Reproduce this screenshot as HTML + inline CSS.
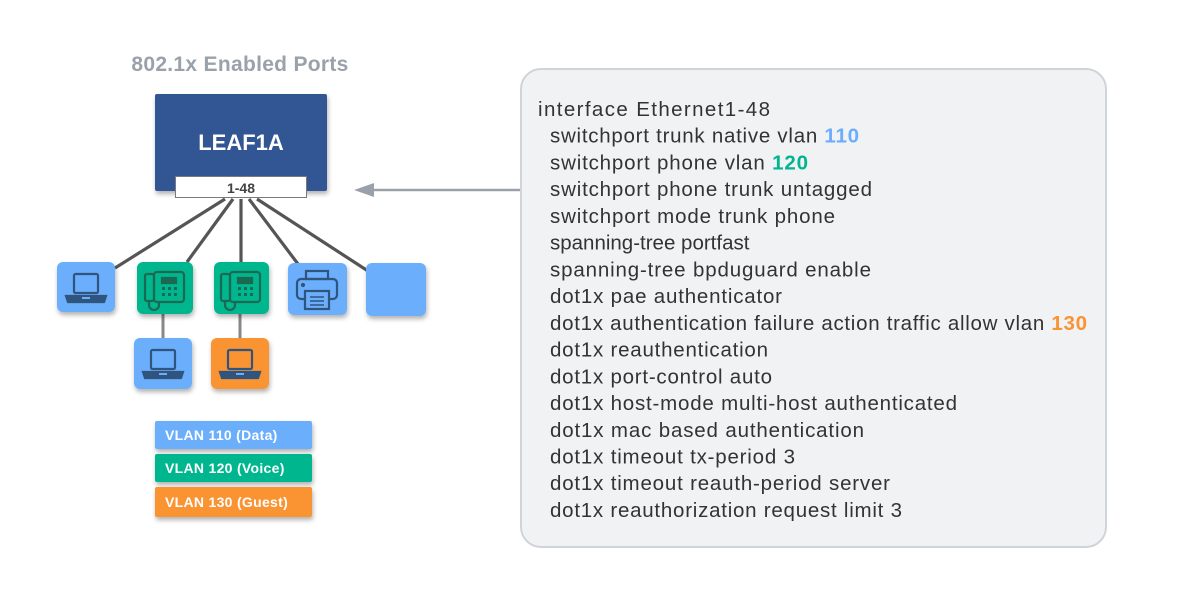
<!DOCTYPE html>
<html><head><meta charset="utf-8"><style>
html,body{margin:0;padding:0;background:#fff;}
svg{display:block;}
</style></head><body>
<svg width="1193" height="612" viewBox="0 0 1193 612" xmlns="http://www.w3.org/2000/svg">
<defs>
<filter id="sh" x="-20%" y="-20%" width="150%" height="160%"><feDropShadow dx="1" dy="3" stdDeviation="2.5" flood-color="#000" flood-opacity="0.3"/></filter>
<g id="laptop" fill="none" stroke="#2f557f" stroke-width="2.2">
<rect x="17" y="12" width="24" height="19" rx="1.5"/>
<path d="M9 34 H49 L47 40 H11 Z" fill="#2f557f"/>
<rect x="25" y="35" width="8" height="2" fill="#6aaefc" stroke="none"/>
</g>
<g id="phone" fill="none" stroke="#1a6a52" stroke-width="2.2">
<rect x="9" y="12" width="9" height="27" rx="2"/>
<rect x="18" y="10" width="30" height="30" rx="3"/>
<rect x="26" y="16" width="14" height="5" fill="#1a6a52"/>
<g fill="#1a6a52" stroke="none">
<rect x="26" y="25" width="3" height="3"/><rect x="32" y="25" width="3" height="3"/><rect x="38" y="25" width="3" height="3"/>
<rect x="26" y="31" width="3" height="3"/><rect x="32" y="31" width="3" height="3"/><rect x="38" y="31" width="3" height="3"/>
</g>
<path d="M13 39 v4 a5 5 0 0 0 10 0 v-4"/>
</g>
<g id="printer" fill="none" stroke="#2f557f" stroke-width="2.2">
<rect x="18" y="8" width="22" height="8"/>
<rect x="9" y="16" width="40" height="20" rx="4"/>
<rect x="17" y="28" width="24" height="18" fill="#6aaefc"/>
<path d="M22 34 H36 M22 38 H36 M22 42 H36" stroke-width="1.6"/>
<circle cx="15" cy="22" r="1" fill="#2f557f"/>
</g>
</defs>

<text x="240" y="71" text-anchor="middle" font-family="Liberation Sans, sans-serif" font-weight="bold" font-size="21" letter-spacing="0.3" fill="#9aa1ab">802.1x Enabled Ports</text>

<rect x="155" y="94" width="172" height="97" rx="2" fill="#335693" filter="url(#sh)"/>
<text x="241" y="150" text-anchor="middle" font-family="Liberation Sans, sans-serif" font-weight="bold" font-size="22" fill="#fff">LEAF1A</text>
<rect x="175.5" y="176.5" width="131" height="21" fill="#fff" stroke="#7a7a7a" stroke-width="1"/>
<text x="241" y="193" text-anchor="middle" font-family="Liberation Sans, sans-serif" font-weight="bold" font-size="14" fill="#444">1-48</text>

<g stroke="#555" stroke-width="3.2">
<line x1="225" y1="199" x2="115" y2="268"/>
<line x1="233" y1="199" x2="187" y2="262"/>
<line x1="241" y1="199" x2="241" y2="262"/>
<line x1="249" y1="199" x2="298" y2="264"/>
<line x1="257" y1="199" x2="368" y2="271"/>
</g>
<g stroke="#888" stroke-width="3">
<line x1="163" y1="313" x2="163" y2="339"/>
<line x1="240" y1="313" x2="240" y2="339"/>
</g>

<rect x="57" y="262" width="58" height="50" rx="6" fill="#6aaefc" filter="url(#sh)"/>
<use href="#laptop" x="57" y="262"/>
<rect x="137" y="262" width="56" height="52" rx="6" fill="#00b68f" filter="url(#sh)"/>
<use href="#phone" x="136" y="262"/>
<rect x="214" y="262" width="55" height="52" rx="6" fill="#00b68f" filter="url(#sh)"/>
<use href="#phone" x="212" y="262"/>
<rect x="288" y="263" width="59" height="52" rx="6" fill="#6aaefc" filter="url(#sh)"/>
<use href="#printer" x="288" y="263"/>
<rect x="366" y="263" width="60" height="53" rx="6" fill="#6aaefc" filter="url(#sh)"/>
<rect x="134" y="338" width="58" height="51" rx="6" fill="#6aaefc" filter="url(#sh)"/>
<use href="#laptop" x="134" y="338"/>
<rect x="211" y="338" width="58" height="51" rx="6" fill="#fa9332" filter="url(#sh)"/>
<use href="#laptop" x="211" y="338"/>

<g font-family="Liberation Sans, sans-serif" font-weight="bold" font-size="14" letter-spacing="0.3" fill="#fff">
<rect x="155" y="421" width="157" height="28" rx="2" fill="#6aaefc" filter="url(#sh)"/>
<text x="165" y="440">VLAN 110 (Data)</text>
<rect x="155" y="454" width="157" height="28" rx="2" fill="#00b68f" filter="url(#sh)"/>
<text x="165" y="473">VLAN 120 (Voice)</text>
<rect x="155" y="487" width="157" height="30" rx="2" fill="#fa9332" filter="url(#sh)"/>
<text x="165" y="507">VLAN 130 (Guest)</text>
</g>

<line x1="520" y1="190" x2="370" y2="190" stroke="#9aa1ab" stroke-width="2.5"/>
<polygon points="354,190 374,183 374,197" fill="#9aa1ab"/>

<rect x="521" y="69" width="585" height="478" rx="20" fill="#f1f2f4" stroke="#d0d4d9" stroke-width="2"/>
<g font-family="Liberation Sans, sans-serif" font-size="20.5" fill="#333">
<text x="538" y="116" textLength="232" lengthAdjust="spacing">interface Ethernet1-48</text>
<text x="550" y="142.7" textLength="309" lengthAdjust="spacing">switchport trunk native vlan <tspan fill="#6aaefc" font-weight="bold">110</tspan></text>
<text x="550" y="169.5" textLength="258" lengthAdjust="spacing">switchport phone vlan <tspan fill="#00b68f" font-weight="bold">120</tspan></text>
<text x="550" y="196.2" textLength="322" lengthAdjust="spacing">switchport phone trunk untagged</text>
<text x="550" y="222.9" textLength="285" lengthAdjust="spacing">switchport mode trunk phone</text>
<text x="550" y="249.6">spanning-tree portfast</text>
<text x="550" y="276.4" textLength="321" lengthAdjust="spacing">spanning-tree bpduguard enable</text>
<text x="550" y="303.1" textLength="232" lengthAdjust="spacing">dot1x pae authenticator</text>
<text x="550" y="329.8" textLength="537" lengthAdjust="spacing">dot1x authentication failure action traffic allow vlan <tspan fill="#fa9332" font-weight="bold">130</tspan></text>
<text x="550" y="356.6" textLength="218" lengthAdjust="spacing">dot1x reauthentication</text>
<text x="550" y="383.3" textLength="222" lengthAdjust="spacing">dot1x port-control auto</text>
<text x="550" y="410" textLength="407" lengthAdjust="spacing">dot1x host-mode multi-host authenticated</text>
<text x="550" y="436.8" textLength="314" lengthAdjust="spacing">dot1x mac based authentication</text>
<text x="550" y="463.5" textLength="245" lengthAdjust="spacing">dot1x timeout tx-period 3</text>
<text x="550" y="490.2" textLength="340" lengthAdjust="spacing">dot1x timeout reauth-period server</text>
<text x="550" y="517" textLength="352" lengthAdjust="spacing">dot1x reauthorization request limit 3</text>
</g>
</svg>
</body></html>
